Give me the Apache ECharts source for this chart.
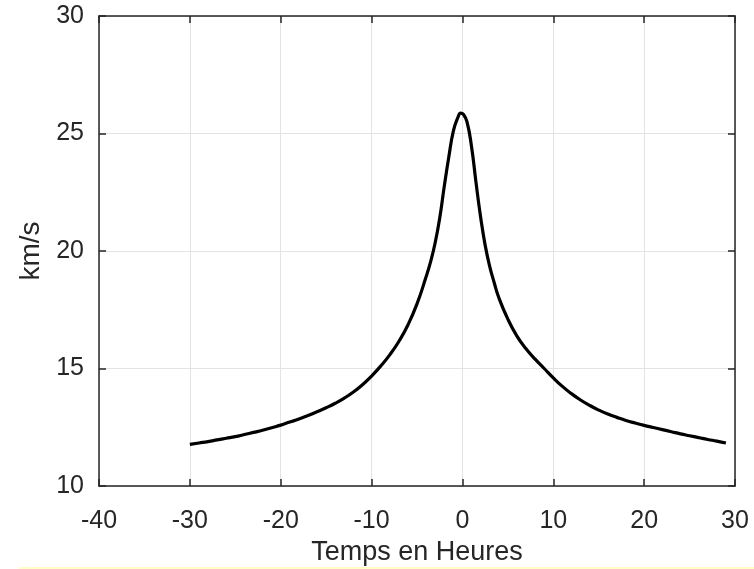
<!DOCTYPE html>
<html>
<head>
<meta charset="utf-8">
<script src="https://cdn.jsdelivr.net/npm/echarts@6/dist/echarts.min.js"></script>
<style>
  html, body { margin: 0; padding: 0; background: #fff; }
  #chart-container { width: 754px; height: 569px; }
</style>
</head>
<body>
<div id="chart-container"></div>
<script>
// temps (heures) et vitesse (km/s)
var hours = [-30, -29, -28, -27, -26, -25, -24, -23, -22, -21, -20, -19, -18, -17, -16, -15, -14, -13, -12, -11,
             -10, -9, -8, -7, -6, -5, -4, -3.5, -3, -2.5, -2, -1.5, -1, -0.5, -0.2,
             0.1, 0.5, 1, 1.5, 2, 2.5, 3, 3.5, 4, 5, 6, 7, 8, 9,
             10, 11, 12, 13, 14, 15, 16, 17, 18, 19, 20, 21, 22, 23, 24, 25, 26, 27, 28, 29];
var speed = [11.77, 11.83, 11.89, 11.96, 12.03, 12.1, 12.19, 12.28, 12.37, 12.48, 12.59, 12.72, 12.85, 13.0, 13.16, 13.33, 13.52, 13.74, 14.0, 14.31,
             14.68, 15.1, 15.58, 16.15, 16.85, 17.75, 18.9, 19.55, 20.35, 21.4, 22.75, 24.0, 25.1, 25.68, 25.87,
             25.82, 25.5, 24.45, 22.9, 21.45, 20.25, 19.35, 18.65, 18.02, 17.1, 16.38, 15.84, 15.4, 15.0,
             14.6, 14.24, 13.93, 13.66, 13.43, 13.23, 13.06, 12.92, 12.79, 12.68, 12.58, 12.49, 12.4, 12.31, 12.22, 12.14, 12.06, 11.98, 11.91, 11.83];
var xTicks = [-40, 30, 10];   // min, max, pas
var yTicks = [10, 30, 5];

var fontName = '"Liberation Sans", Arial, sans-serif';
var axisColor = '#262626';

var chart = echarts.init(document.getElementById('chart-container'));

var points = hours.map(function (h, i) { return [h, speed[i]]; });

function frameX(pos, showLabel) {
    return {
        type: 'value',
        position: pos,
        min: xTicks[0], max: xTicks[1], interval: xTicks[2],
        axisLine: { show: true, onZero: false, lineStyle: { color: axisColor, width: 1.5 } },
        axisTick: { show: true, inside: true, length: 7, lineStyle: { color: axisColor, width: 1.5 } },
        axisLabel: { show: showLabel, color: axisColor, fontFamily: fontName, fontSize: 25, margin: 23 },
        splitLine: { show: showLabel, lineStyle: { color: '#e3e3e3', width: 1 } }
    };
}
function frameY(pos, showLabel) {
    return {
        type: 'value',
        position: pos,
        min: yTicks[0], max: yTicks[1], interval: yTicks[2],
        axisLine: { show: true, onZero: false, lineStyle: { color: axisColor, width: 1.5 } },
        axisTick: { show: true, inside: true, length: 7, lineStyle: { color: axisColor, width: 1.5 } },
        axisLabel: { show: showLabel, color: axisColor, fontFamily: fontName, fontSize: 25, margin: 15 },
        splitLine: { show: showLabel, lineStyle: { color: '#e3e3e3', width: 1 } }
    };
}

var xMain = frameX('bottom', true);
xMain.name = 'Temps en Heures';
xMain.nameLocation = 'middle';
xMain.nameGap = 52;
xMain.nameTextStyle = { color: axisColor, fontFamily: fontName, fontSize: 27 };

var yMain = frameY('left', true);
yMain.name = 'km/s';
yMain.nameLocation = 'middle';
yMain.nameGap = 53;
yMain.nameTextStyle = { color: axisColor, fontFamily: fontName, fontSize: 28 };

var option = {
    animation: false,
    backgroundColor: '#fff',
    grid: { left: 99, right: 19, top: 16, bottom: 83, outerBoundsMode: 'none' },
    xAxis: [xMain, frameX('top', false)],
    yAxis: [yMain, frameY('right', false)],
    graphic: [
        {
            type: 'rect',
            left: 19, bottom: 0,
            shape: { width: 735, height: 2 },
            style: { fill: '#ffffc8' }
        }
    ],
    series: [
        {
            type: 'line',
            data: points,
            smooth: 0.5,
            showSymbol: false,
            lineStyle: { color: '#000', width: 3.2 }
        }
    ]
};
chart.setOption(option);
</script>
</body>
</html>
